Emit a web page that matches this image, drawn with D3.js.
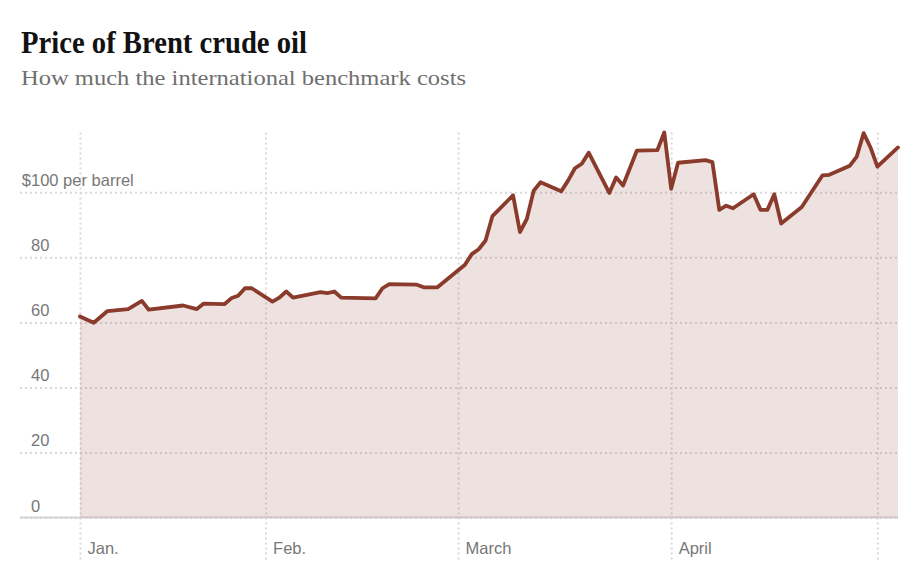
<!DOCTYPE html>
<html>
<head>
<meta charset="utf-8">
<script src="https://cdn.jsdelivr.net/npm/d3@7"></script>
<style>
  body { margin: 0; background: #fff; }
  .title { font-family: "Liberation Serif", serif; font-weight: bold; fill: #121212; }
  .subtitle { font-family: "Liberation Serif", serif; fill: #6f6f6f; }
  .axis text { font-family: "Liberation Sans", Arial, sans-serif; font-size: 16.5px; fill: #777; }
  .grid line { stroke: #d9d9d9; stroke-width: 2; stroke-dasharray: 2,3; }
</style>
</head>
<body>
<div id="chart"></div>
<script>
// Brent crude, daily closes ($ per barrel)
var dates = [
  "2026-01-05","2026-01-07","2026-01-09","2026-01-12","2026-01-14","2026-01-15",
  "2026-01-20","2026-01-22","2026-01-23","2026-01-26","2026-01-27","2026-01-28",
  "2026-01-29","2026-01-30","2026-02-02","2026-02-03","2026-02-04","2026-02-05",
  "2026-02-09","2026-02-10","2026-02-11","2026-02-12","2026-02-17","2026-02-18",
  "2026-02-19","2026-02-23","2026-02-24","2026-02-26","2026-03-02","2026-03-03",
  "2026-03-04","2026-03-05","2026-03-06","2026-03-09","2026-03-10","2026-03-11",
  "2026-03-12","2026-03-13","2026-03-16","2026-03-17","2026-03-18","2026-03-19",
  "2026-03-20","2026-03-23","2026-03-24","2026-03-25","2026-03-27","2026-03-30",
  "2026-03-31","2026-04-01","2026-04-02","2026-04-06","2026-04-07","2026-04-08",
  "2026-04-09","2026-04-10","2026-04-13","2026-04-14","2026-04-15","2026-04-16",
  "2026-04-17","2026-04-20","2026-04-23","2026-04-24","2026-04-27","2026-04-28",
  "2026-04-29","2026-04-30","2026-05-01","2026-05-04"
];
var prices = [
  61.8, 59.9, 63.5, 64.1, 66.6, 63.9,
  65.2, 64.1, 65.8, 65.6, 67.4, 68.2,
  70.5, 70.5, 66.4, 67.6, 69.5, 67.6,
  69.3, 69.0, 69.5, 67.6, 67.4, 70.5,
  71.8, 71.6, 70.8, 70.8, 77.7, 81.0,
  82.5, 85.2, 92.7, 99.1, 87.8, 91.8,
  100.5, 103.1, 100.3, 103.6, 107.4, 108.8,
  112.2, 99.8, 104.6, 102.1, 112.8, 113.0,
  118.4, 101.1, 109.1, 109.9, 109.3, 94.6,
  95.9, 95.1, 99.4, 94.6, 94.6, 99.4,
  90.4, 95.5, 105.2, 105.4, 108.2, 111.0,
  118.2, 113.8, 107.9, 113.8
];

// axis ticks
var monthTicks = ["2026-01-05","2026-02-01","2026-03-01","2026-04-01","2026-05-01"];
var monthLabels = ["Jan.","Feb.","March","April",""];
var priceTicks = [0, 20, 40, 60, 80, 100];

var width = 919;
var height = 575;

var left = 20;       // where the horizontal grid starts
var plotLeft = 80;   // first data point
var plotRight = 898;
var plotTop = 132.5;
var plotBottom = 517.5;
var gridBottom = 562;

var parse = d3.utcParse("%Y-%m-%d");

var data = dates.map(function(d, i){
    return { date: parse(d), price: prices[i] };
});

var svg = d3
    .select("#chart")
    .append("svg")
    .attr("width", width)
    .attr("height", height);

// titles
svg.append("text")
    .attr("class", "title")
    .attr("x", 21)
    .attr("y", 53)
    .attr("font-size", 32)
    .attr("textLength", 286)
    .attr("lengthAdjust", "spacingAndGlyphs")
    .text("Price of Brent crude oil");

svg.append("text")
    .attr("class", "subtitle")
    .attr("x", 21)
    .attr("y", 85)
    .attr("font-size", 21)
    .attr("textLength", 445)
    .attr("lengthAdjust", "spacingAndGlyphs")
    .text("How much the international benchmark costs");

// scales
var xScale = d3
    .scaleUtc()
    .domain(d3.extent(data, function(d){ return d.date; }))
    .range([plotLeft, plotRight]);

var yScale = d3
    .scaleLinear()
    .domain([0, d3.max(prices)])
    .range([plotBottom, plotTop]);

// vertical grid + month labels
var xAxis = d3.axisBottom(xScale)
    .tickValues(monthTicks.map(parse))
    .tickSize(gridBottom - plotTop)
    .tickFormat(function(d, i){ return monthLabels[i]; });

var gx = svg.append("g")
    .attr("class", "axis grid")
    .attr("transform", `translate(0,${plotTop})`)
    .call(xAxis);

gx.select(".domain").remove();
gx.selectAll("text")
    .attr("text-anchor", "start")
    .attr("x", 7)
    .attr("y", 554 - plotTop)
    .attr("dy", 0);

// horizontal grid + price labels
var yAxis = d3.axisLeft(yScale)
    .tickValues(priceTicks)
    .tickSize(-(plotRight - left))
    .tickFormat(function(d){ return d === 100 ? "100 per barrel" : d; });

var gy = svg.append("g")
    .attr("class", "axis grid")
    .attr("transform", `translate(${left},0)`)
    .call(yAxis);

gy.select(".domain").remove();
gy.selectAll("text")
    .attr("text-anchor", "start")
    .attr("x", 11)
    .attr("dy", -6.5);

// hanging dollar sign on the top label
gy.selectAll(".tick")
    .filter(function(d){ return d === 100; })
    .append("text")
    .attr("text-anchor", "end")
    .attr("x", 11)
    .attr("dy", -6.5)
    .text("$");

// baseline
svg.append("line")
    .attr("x1", left)
    .attr("x2", plotRight)
    .attr("y1", yScale(0))
    .attr("y2", yScale(0))
    .attr("stroke", "#d4d4d4")
    .attr("stroke-width", 2);

// shaded area + line
var area = d3.area()
    .x(function(d){ return xScale(d.date); })
    .y0(yScale(0))
    .y1(function(d){ return yScale(d.price); });

var line = d3.line()
    .x(function(d){ return xScale(d.date); })
    .y(function(d){ return yScale(d.price); });

svg.append("path")
    .datum(data)
    .attr("d", area)
    .attr("fill", "#8a3b2c")
    .attr("fill-opacity", 0.15);

svg.append("path")
    .datum(data)
    .attr("d", line)
    .attr("fill", "none")
    .attr("stroke", "#8a3b2c")
    .attr("stroke-width", 3.8)
    .attr("stroke-linejoin", "round")
    .attr("stroke-linecap", "round");
</script>
</body>
</html>
